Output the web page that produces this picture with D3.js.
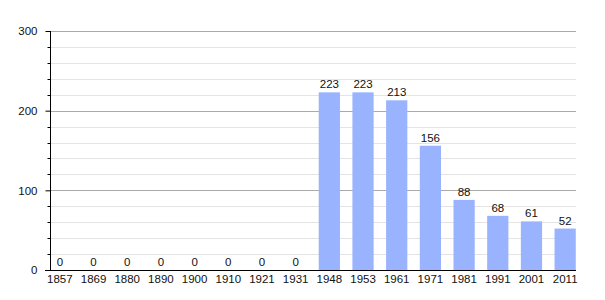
<!DOCTYPE html>
<html>
<head>
<meta charset="utf-8">
<script src="https://cdn.jsdelivr.net/npm/d3@7"></script>
<style>
  body { margin: 0; background: #fff; }
  text { font-family: "Liberation Sans Narrow", "Liberation Sans", Arial, sans-serif; fill: #111; }
</style>
</head>
<body>
<div id="chart"></div>
<script>
const years = ["1857", "1869", "1880", "1890", "1900", "1910", "1921", "1931",
               "1948", "1953", "1961", "1971", "1981", "1991", "2001", "2011"];
const population = [0, 0, 0, 0, 0, 0, 0, 0, 223, 223, 213, 156, 88, 68, 61, 52];
const majorTicks = [0, 100, 200, 300];
const minorTicks = d3.range(0, 301, 20);

const W = 605, H = 300;
const axisX = 50, gridRight = 576;
const font = "'Liberation Sans Narrow', 'Liberation Sans', Arial, sans-serif";
const fontSize = 11.5;

const svg = d3.select("#chart").append("svg")
    .attr("width", W)
    .attr("height", H);

const x = d3.scaleBand()
    .domain(years)
    .range([43, 582])
    .paddingInner(0.37)
    .paddingOuter(0.185);

const y = d3.scaleLinear()
    .domain([0, 300])
    .range([270, 31]);

// minor grid
svg.append("g").selectAll("line")
    .data(minorTicks.filter(d => d % 100 != 0))
    .join("line")
      .attr("x1", axisX).attr("x2", gridRight)
      .attr("y1", d => Math.round(y(d)) + 0.5)
      .attr("y2", d => Math.round(y(d)) + 0.5)
      .attr("stroke", "#e4e4e4");

// major grid
svg.append("g").selectAll("line")
    .data(majorTicks.filter(d => d > 0))
    .join("line")
      .attr("x1", axisX).attr("x2", gridRight)
      .attr("y1", d => Math.round(y(d)) + 0.5)
      .attr("y2", d => Math.round(y(d)) + 0.5)
      .attr("stroke", "#aaaaaa");

// bars
svg.append("g").selectAll("rect")
    .data(population)
    .join("rect")
      .attr("x", (d, i) => x(years[i]))
      .attr("width", x.bandwidth())
      .attr("y", d => y(d))
      .attr("height", d => y(0) - y(d))
      .attr("fill", "#99b3ff");

// value labels
svg.append("g").selectAll("text")
    .data(population)
    .join("text")
      .attr("x", (d, i) => x(years[i]) + x.bandwidth() / 2)
      .attr("y", d => y(d) - 4)
      .attr("text-anchor", "middle")
      .attr("font-size", fontSize)
      .text(d => d);

// y axis
const yAxis = svg.append("g")
    .attr("transform", "translate(" + (axisX + 0.5) + ",0)");
yAxis.call(d3.axisLeft(y).tickValues(majorTicks).tickSize(5).tickPadding(8));
yAxis.select(".domain").attr("stroke", "#000").attr("d", "M0,31V270");
yAxis.selectAll(".tick line").attr("stroke", "#000");
yAxis.selectAll(".tick text").attr("font-size", fontSize).attr("font-family", font).attr("fill", "#111");
yAxis.append("g").selectAll("line")
    .data(minorTicks.filter(d => d % 100 != 0))
    .join("line")
      .attr("x1", -3).attr("x2", 0)
      .attr("y1", d => Math.round(y(d)) + 0.5)
      .attr("y2", d => Math.round(y(d)) + 0.5)
      .attr("stroke", "#000");

// x axis
const xAxis = svg.append("g")
    .attr("transform", "translate(0," + (y(0) + 0.5) + ")");
xAxis.call(d3.axisBottom(x).tickSize(0).tickPadding(4));
xAxis.select(".domain").attr("stroke", "#000").attr("d", "M45,0H" + gridRight);
xAxis.selectAll(".tick text").attr("font-size", fontSize).attr("font-family", font).attr("fill", "#111");
</script>
</body>
</html>
